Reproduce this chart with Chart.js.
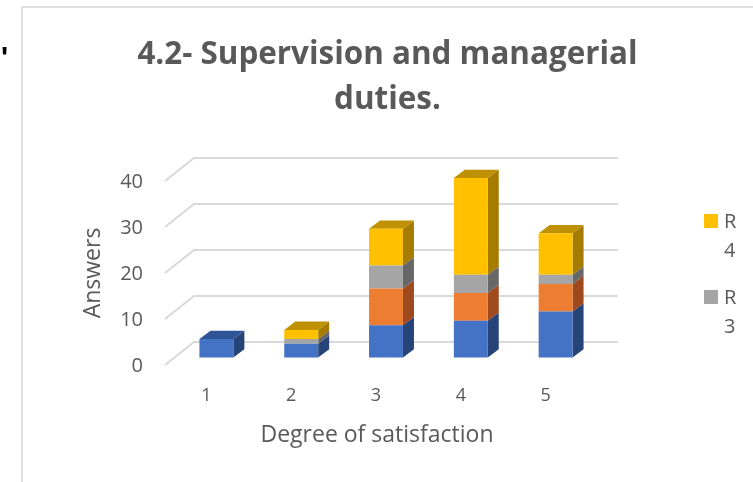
<!DOCTYPE html>
<html>
<head>
<meta charset="utf-8">
<style>html,body{margin:0;padding:0;background:#fff}#wrap{width:753px;height:482px;position:relative}</style>
<script src="https://cdn.jsdelivr.net/npm/chart.js@4"></script>
</head>
<body>
<div id="wrap"><canvas id="c" width="753" height="482"></canvas></div>
<script>
const categories = ["1", "2", "3", "4", "5"];
const seriesNames = ["R 1", "R 2", "R 3", "R 4"];
const r1 = [4, 3, 7, 8, 10];
const r2 = [0, 0, 8, 6, 6];
const r3 = [0, 1, 5, 4, 2];
const r4 = [0, 2, 8, 21, 9];
const legendShown = ["R 4", "R 3"];
const yTicks = [0, 10, 20, 30, 40];

const frontColors = ["#4472C4", "#ED7D31", "#A5A5A5", "#FFC000"];
const sideColors = ["#264478", "#9E4A1E", "#676767", "#A67C00"];
const topColors = ["#2F5597", "#B85F22", "#7C7C7C", "#BF9000"];
const FONT = "'Open Sans', sans-serif";
const TEXT = "#595959";
const GRID = "#D9D9D9";

function poly(ctx, pts, fill) {
  ctx.beginPath();
  pts.forEach((p, i) => i ? ctx.lineTo(p[0], p[1]) : ctx.moveTo(p[0], p[1]));
  ctx.closePath();
  ctx.fillStyle = fill;
  ctx.fill();
}

const box3d = {
  id: "box3d",
  beforeDraw(chart) {
    const ctx = chart.ctx;
    ctx.save();
    ctx.strokeStyle = "#E0E0E0";
    ctx.lineWidth = 2;
    ctx.beginPath();
    ctx.moveTo(22, 482); ctx.lineTo(22, 7); ctx.lineTo(753, 7);
    ctx.stroke();
    ctx.fillStyle = "#000";
    ctx.font = "bold 30px 'Liberation Sans'";
    ctx.textBaseline = "top";
    ctx.fillText("'", 1, 44);
    ctx.restore();
  },
  beforeDatasetsDraw(chart) {
    const ctx = chart.ctx, ys = chart.scales.y, a = chart.chartArea;
    const wallX = 29, wallY = -23;
    ctx.save();
    ctx.strokeStyle = GRID;
    ctx.lineWidth = 2;
    yTicks.forEach(v => {
      const py = ys.getPixelForValue(v);
      ctx.beginPath();
      ctx.moveTo(a.left, py);
      ctx.lineTo(a.left + wallX, py + wallY);
      ctx.lineTo(a.right + wallX, py + wallY);
      ctx.stroke();
    });
    ctx.restore();

    ctx.save();
    ctx.translate(9, -7.5);
    const dx = 11, dy = -8.3;
    categories.forEach((_, i) => {
      let last = -1;
      chart.data.datasets.forEach((d, k) => { if (d.data[i] > 0) last = k; });
      chart.data.datasets.forEach((d, k) => {
        if (!(d.data[i] > 0)) return;
        const el = chart.getDatasetMeta(k).data[i];
        const R = el.x + el.width / 2, L = el.x - el.width / 2;
        poly(ctx, [[R, el.base], [R + dx, el.base + dy], [R + dx, el.y + dy], [R, el.y]], sideColors[k]);
        if (k === last) {
          poly(ctx, [[L, el.y], [L + dx, el.y + dy], [R + dx, el.y + dy], [R, el.y]], topColors[k]);
        }
      });
    });
  },
  afterDatasetsDraw(chart) {
    const ctx = chart.ctx;
    ctx.restore();
    ctx.save();
    ctx.font = "20px " + FONT;
    ctx.textBaseline = "middle";
    ctx.textAlign = "left";
    const tops = [214, 290];
    legendShown.forEach((name, n) => {
      const k = seriesNames.indexOf(name), parts = name.split(" ");
      ctx.fillStyle = frontColors[k];
      ctx.fillRect(704, tops[n], 14, 14);
      ctx.fillStyle = TEXT;
      ctx.fillText(parts[0], 724, tops[n] + 8);
      ctx.fillText(parts[1], 724, tops[n] + 37);
    });
    ctx.restore();
  }
};

new Chart(document.getElementById("c"), {
  type: "bar",
  data: {
    labels: categories,
    datasets: [r1, r2, r3, r4].map((values, k) => ({
      label: seriesNames[k],
      data: values,
      backgroundColor: frontColors[k],
      borderWidth: 0,
      barPercentage: 0.4,
      categoryPercentage: 1,
      clip: false
    }))
  },
  options: {
    responsive: false,
    animation: false,
    layout: { padding: { left: 22, right: 0, top: 33, bottom: 0 } },
    plugins: {
      legend: { display: false },
      tooltip: { enabled: false },
      title: {
        display: true,
        text: ["4.2- Supervision and managerial", "duties."],
        color: TEXT,
        font: { family: FONT, size: 31.4, weight: "bold", lineHeight: 1.433 },
        padding: { top: 0, bottom: 58 }
      }
    },
    scales: {
      x: {
        stacked: true,
        grid: { display: false },
        border: { display: false },
        afterFit(s) { s.height = 117; },
        ticks: { color: TEXT, font: { family: FONT, size: 18 }, padding: 12, labelOffset: -1, autoSkip: false, maxRotation: 0 },
        title: {
          display: true,
          text: "Degree of satisfaction",
          color: TEXT,
          font: { family: FONT, size: 23, lineHeight: 1.2 },
          padding: { top: 0, bottom: 33 }
        }
      },
      y: {
        stacked: true,
        min: 0,
        max: 40,
        afterBuildTicks(s) { s.ticks = yTicks.map(v => ({ value: v })); },
        afterFit(s) { s.width = 143; },
        grid: { display: false },
        border: { display: false },
        ticks: { color: TEXT, font: { family: FONT, size: 20 }, padding: 14, labelOffset: 1.5 },
        title: {
          display: true,
          text: "Answers",
          color: TEXT,
          font: { family: FONT, size: 23, lineHeight: 1.2 },
          padding: { top: 58, bottom: 0 }
        }
      },
      spacer: {
        position: "right",
        display: true,
        afterFit(s) { s.width = 164; },
        grid: { display: false },
        border: { display: false },
        ticks: { display: false }
      }
    }
  },
  plugins: [box3d]
});
</script>
</body>
</html>
